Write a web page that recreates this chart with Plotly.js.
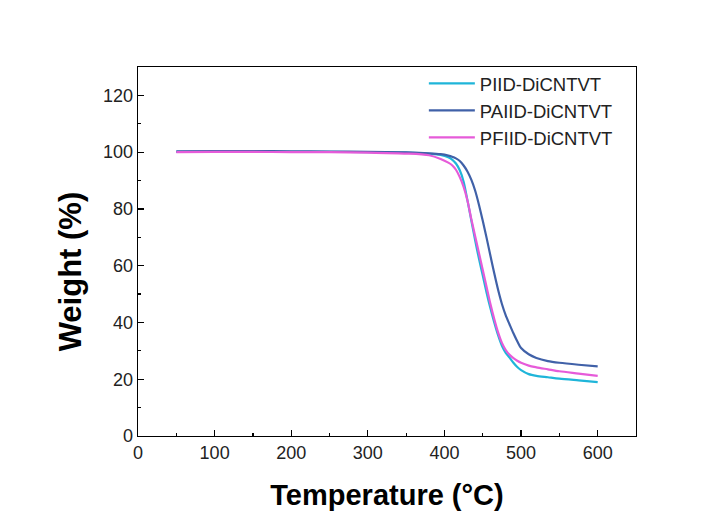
<!DOCTYPE html>
<html>
<head>
<meta charset="utf-8">
<script src="https://cdn.plot.ly/plotly-3.0.1.min.js"></script>
<style>
  html, body { margin: 0; padding: 0; background: #ffffff; }
  #chart { width: 724px; height: 516px; }
</style>
</head>
<body>
<div id="chart"></div>
<script>
// TGA curves: residual weight (%) versus temperature (°C)
const temperature = [50, 100, 150, 200, 250, 300, 350, 380, 395, 405, 410, 415, 420, 425, 430, 435,
  440, 445, 450, 455, 460, 465, 470, 475, 480, 485, 490, 495, 500, 510, 520, 535, 550, 575, 600];

const weightPIID = [100.1, 100.2, 100.2, 100.1, 100.1, 100.0, 99.8, 99.4, 99.0, 98.2, 97.4, 96.0, 93.6, 89.6, 83.0, 76.0,
  69.0, 62.5, 56.5, 50.5, 45.0, 40.0, 35.5, 31.8, 29.3, 27.6, 25.8, 24.3, 23.2, 21.8, 21.2, 20.7, 20.2, 19.6, 19.0];

const weightPAIID = [100.3, 100.4, 100.4, 100.3, 100.2, 100.1, 99.9, 99.6, 99.3, 98.8, 98.4, 97.8, 96.9, 95.3, 93.2, 90.3,
  86.5, 81.5, 75.8, 69.8, 63.5, 57.3, 51.5, 46.5, 42.5, 39.3, 36.2, 33.4, 31.0, 28.8, 27.5, 26.4, 25.8, 25.1, 24.5];

const weightPFIID = [100.0, 100.1, 100.1, 100.0, 100.0, 99.8, 99.5, 98.9, 97.6, 96.3, 95.4, 93.8, 91.2, 87.8, 83.0, 76.5,
  70.5, 64.5, 58.5, 52.5, 46.5, 41.2, 36.5, 32.8, 30.3, 28.6, 27.4, 26.5, 25.8, 24.8, 24.2, 23.5, 22.8, 22.0, 21.2];

const seriesNames = ['PIID-DiCNTVT', 'PAIID-DiCNTVT', 'PFIID-DiCNTVT'];
const seriesColors = ['#1fb5d9', '#4061a8', '#e65bd9'];
const seriesValues = [weightPIID, weightPAIID, weightPFIID];

const xTickVals = [0, 100, 200, 300, 400, 500, 600];
const yTickVals = [0, 20, 40, 60, 80, 100, 120];

const FONT = 'Liberation Sans, Arial, sans-serif';

const traces = seriesValues.map((vals, i) => ({
  x: temperature,
  y: vals,
  type: 'scatter',
  mode: 'lines',
  name: seriesNames[i],
  line: { color: seriesColors[i], width: 2.2, shape: 'spline', smoothing: 0.8 }
}));

const layout = {
  width: 724,
  height: 516,
  paper_bgcolor: '#ffffff',
  plot_bgcolor: '#ffffff',
  margin: { l: 138, r: 88, t: 67, b: 80 },
  showlegend: true,
  legend: {
    x: 0.574, xanchor: 'left',
    y: 1.006, yanchor: 'top',
    bgcolor: 'rgba(0,0,0,0)',
    borderwidth: 0,
    font: { family: FONT, size: 18.5, color: '#222222' },
    tracegroupgap: 0,
    itemwidth: 46
  },
  xaxis: {
    range: [0, 650],
    tickvals: xTickVals,
    ticktext: xTickVals.map(String),
    ticks: 'inside',
    ticklen: 6,
    tickwidth: 1.2,
    tickcolor: '#000000',
    minor: { ticks: 'inside', dtick: 50, tick0: 0, ticklen: 3, tickwidth: 1.2, tickcolor: '#000000' },
    showline: true,
    linecolor: '#000000',
    linewidth: 1.3,
    mirror: true,
    showgrid: false,
    zeroline: false,
    tickfont: { family: FONT, size: 18, color: '#222222' },
    title: {
      text: '<b>Temperature (°C)</b>',
      font: { family: FONT, size: 29, color: '#000000' },
      standoff: 22
    }
  },
  yaxis: {
    range: [0, 130],
    tickvals: yTickVals,
    ticktext: yTickVals.map(String),
    ticks: 'inside',
    ticklen: 6,
    tickwidth: 1.2,
    tickcolor: '#000000',
    minor: { ticks: 'inside', dtick: 10, tick0: 0, ticklen: 3, tickwidth: 1.2, tickcolor: '#000000' },
    showline: true,
    linecolor: '#000000',
    linewidth: 1.3,
    mirror: true,
    showgrid: false,
    zeroline: false,
    tickfont: { family: FONT, size: 18, color: '#222222' }
  },
  annotations: [{
    // y-axis title, set slightly below the axis midpoint
    text: '<b>Weight (%)</b>',
    xref: 'paper', yref: 'paper',
    x: -0.136, y: 0.447,
    xanchor: 'center', yanchor: 'middle',
    textangle: -90,
    showarrow: false,
    font: { family: FONT, size: 31, color: '#000000' }
  }]
};

Plotly.newPlot('chart', traces, layout, { displayModeBar: false, staticPlot: true });
</script>
</body>
</html>
